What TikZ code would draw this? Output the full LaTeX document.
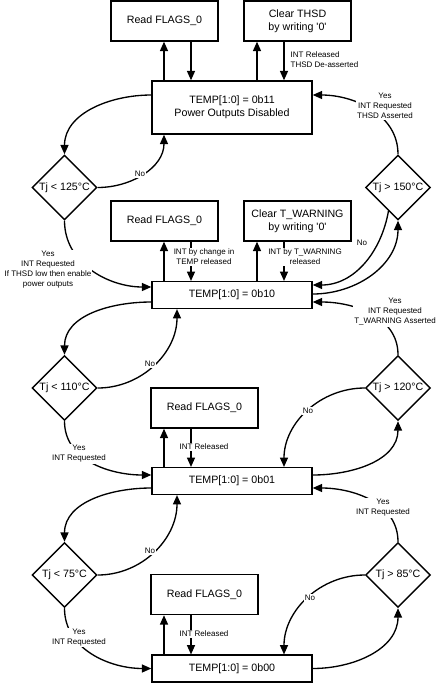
\documentclass[tikz,border=0pt]{standalone}
\usepackage{fontspec}
\setmainfont{Liberation Sans}
\usetikzlibrary{shapes.geometric,arrows.meta}

\tikzset{every picture/.style={line width=1pt}}
\tikzset{
  statebox/.style={draw, line width=1.1pt, minimum width=120pt, minimum height=20pt, inner sep=0.75pt, align=center, font=\fontsize{8}{10}\selectfont},
  flagbox/.style={draw, line width=1.1pt, minimum width=80.25pt, minimum height=30pt, inner sep=0.75pt, align=center, font=\fontsize{8}{10}\selectfont},
  tempcheck/.style={draw, diamond, line width=1.1pt, minimum width=48.75pt, minimum height=48.75pt, inner sep=0.5pt, font=\fontsize{8}{10}\selectfont},
  edgetext/.style={fill=white, inner sep=0.75pt, align=center, font=\fontsize{6}{7.5}\selectfont},
  flow/.style={-{Triangle[length=7pt,width=6pt]}},
}

\begin{document}
\begin{tikzpicture}[x=0.75pt,y=0.75pt,yscale=-1,xscale=1]
\useasboundingbox (0,0) rectangle (441,683);

%Shape: Rectangle 
\node[flagbox] (rdA) at (164.5,21) {Read FLAGS\_0};
\node[flagbox] (clrA) at (297.5,21) {Clear THSD\\by writing \textquotesingle 0\textquotesingle};
\node[statebox, minimum height=39.75pt] (t11) at (232,107.5) {TEMP[1:0] = 0b11\\Power Outputs Disabled};
\node[flagbox] (rdB) at (164.5,221) {Read FLAGS\_0};
\node[flagbox] (clrB) at (297.5,221) {Clear T\_WARNING\\by writing \textquotesingle 0\textquotesingle};
\node[statebox] (t10) at (232,295) {TEMP[1:0] = 0b10};
\node[flagbox] (rdC) at (204.5,408) {Read FLAGS\_0};
\node[statebox] (t01) at (232,481) {TEMP[1:0] = 0b01};
\node[flagbox] (rdD) at (204.5,594.5) {Read FLAGS\_0};
\node[statebox] (t00) at (232,668.5) {TEMP[1:0] = 0b00};

%Shape: Diamond 
\node[tempcheck] (lt125) at (64.5,187.5) {Tj < 125°C};
\node[tempcheck] (gt150) at (398,187.5) {Tj > 150°C};
\node[tempcheck] (lt110) at (64.5,388) {Tj < 110°C};
\node[tempcheck] (gt120) at (398,388) {Tj > 120°C};
\node[tempcheck] (lt75) at (64.5,575) {Tj < 75°C};
\node[tempcheck] (gt85) at (398,575) {Tj > 85°C};

%Straight Lines 
\draw[flow] (t11.north -| 164,0) -- (rdA.south -| 164,0);
\draw[flow] (rdA.south -| 191,0) -- (t11.north -| 191,0);
\draw[flow] (t11.north -| 257,0) -- (clrA.south -| 257,0);
\draw[flow] (clrA.south -| 284,0) -- (t11.north -| 284,0);
\draw[flow] (t10.north -| 164,0) -- (rdB.south -| 164,0);
\draw[flow] (rdB.south -| 191,0) -- (t10.north -| 191,0);
\draw[flow] (t10.north -| 257,0) -- (clrB.south -| 257,0);
\draw[flow] (clrB.south -| 284,0) -- (t10.north -| 284,0);
\draw[flow] (t01.north -| 164,0) -- (rdC.south -| 164,0);
\draw[flow] (rdC.south -| 191,0) -- (t01.north -| 191,0);
\draw[flow] (t00.north -| 164,0) -- (rdD.south -| 164,0);
\draw[flow] (rdD.south -| 191,0) -- (t00.north -| 191,0);

%Curve Lines 
\draw[flow] (t11.west |- 0,95) to[out=180,in=270] (lt125.north);
\draw[flow] (lt125.east) to[out=0,in=90] (t11.south -| 164,0);
\draw[flow] (gt150.north) to[out=270,in=0] (t11.east |- 0,95);
\draw[flow] (lt125.south) to[out=90,in=180] (t10.west |- 0,287);
\draw[flow] (gt150.248) to[out=100,in=0] (t10.east |- 0,285);
\draw[flow] (t10.east |- 0,294) to[out=0,in=90] (gt150.south);
\draw[flow] (t10.west |- 0,302) to[out=180,in=270] (lt110.north);
\draw[flow] (lt110.east) to[out=0,in=90] (t10.south -| 177,0);
\draw[flow] (gt120.north) to[out=270,in=0] (t10.east |- 0,302);
\draw[flow] (lt110.south) to[out=90,in=180] (t01.west |- 0,475);
\draw[flow] (t01.east |- 0,475) to[out=0,in=90] (gt120.south);
\draw[flow] (gt120.west) to[out=180,in=270] (t01.north -| 284,0);
\draw[flow] (t01.west |- 0,488) to[out=180,in=270] (lt75.north);
\draw[flow] (lt75.east) to[out=0,in=90] (t01.south -| 177,0);
\draw[flow] (gt85.north) to[out=270,in=0] (t01.east |- 0,488);
\draw[flow] (lt75.south) to[out=90,in=180] (t00.west);
\draw[flow] (t00.east) to[out=0,in=90] (gt85.south);
\draw[flow] (gt85.west) to[out=180,in=270] (t00.north -| 284,0);

% Text Node
\node[edgetext, anchor=west, align=left] (relA) at (289,60) {INT Released\\THSD De-asserted};
\node[edgetext] (noA) at (140,174) {No};
\node[edgetext] (yesA) at (385,106) {Yes\\INT Requested\\THSD Asserted};
\node[edgetext] (relB) at (204,257) {INT by change in\\TEMP released};
\node[edgetext] (relC) at (305,257) {INT by T\_WARNING\\released};
\node[edgetext] (yesB) at (48,269.5) {Yes\\INT Requested\\If THSD low then enable\\power outputs};
\node[edgetext] (noB) at (362,243) {No};
\node[edgetext] (yesC) at (395,312) {Yes\\INT Requested\\T\_WARNING Asserted};
\node[edgetext] (noC) at (150,364) {No};
\node[edgetext] (relD) at (204,447) {INT Released};
\node[edgetext] (yesD) at (79,454) {Yes\\INT Requested};
\node[edgetext] (noD) at (308,411) {No};
\node[edgetext] (yesE) at (383,508) {Yes\\INT Requested};
\node[edgetext] (noE) at (150,551) {No};
\node[edgetext] (relE) at (204,634) {INT Released};
\node[edgetext] (yesF) at (79,637.5) {Yes\\INT Requested};
\node[edgetext] (noF) at (310,598) {No};

\end{tikzpicture}
\end{document}
